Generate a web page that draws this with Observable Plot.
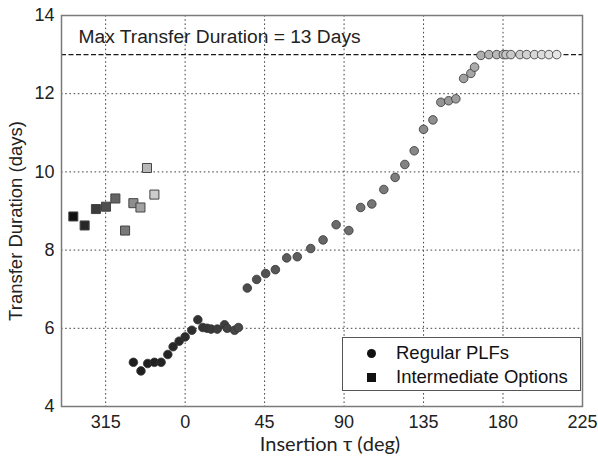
<!DOCTYPE html>
<html>
<head>
<meta charset="utf-8">
<script src="https://cdn.jsdelivr.net/npm/d3@7"></script>
<script src="https://cdn.jsdelivr.net/npm/@observablehq/plot@0.6"></script>
<style>
  html, body { margin: 0; padding: 0; background: #fff; }
  #wrap { position: relative; width: 598px; height: 458px; }
  #legend {
    position: absolute; left: 342px; top: 337px; width: 239px; height: 54px;
    border: 1px solid #555; background: #fff; box-sizing: border-box;
    font-family: "Liberation Sans", Arial, sans-serif; font-size: 18.5px; color: #111;
  }
  #legend .row { position: absolute; left: 0; height: 22px; line-height: 22px; white-space: nowrap; }
  #legend .sym { position: absolute; left: 24px; top: 7px; width: 9px; height: 9px; background: #111; }
  #legend .lab { position: absolute; left: 53px; top: 0; }
</style>
</head>
<body>
<div id="wrap"></div>
<script>
// Insertion angle τ (deg, 315 wraps to -45) and transfer duration (days)
const regularTau = [
  -29.3, -25.0, -21.2, -17.4, -13.6, -9.8, -6.8, -3.4, 0.0, 3.8,
  7.2, 10.0, 12.5, 14.7, 18.2, 22.3, 23.8, 28.0, 30.2,
  35.2, 40.5, 45.6, 51.1, 57.5, 63.5, 71.1, 78.1, 85.5, 92.7,
  99.4, 105.7, 112.5, 118.9, 124.4, 129.7, 135.0, 140.3, 144.8, 149.2, 153.3, 157.7,
  161.8, 163.9, 167.5,
  172.0, 176.4, 180.2, 181.7, 184.5, 189.6, 193.4, 197.8, 201.9, 206.0, 210.4
];
const regularDays = [
  5.13, 4.91, 5.10, 5.13, 5.13, 5.33, 5.53, 5.67, 5.78, 5.95,
  6.22, 6.02, 6.00, 5.98, 5.98, 6.09, 6.00, 5.95, 6.02,
  7.03, 7.25, 7.40, 7.50, 7.80, 7.83, 8.04, 8.26, 8.65, 8.50,
  9.09, 9.18, 9.55, 9.86, 10.19, 10.54, 11.09, 11.33, 11.78, 11.82, 11.87, 12.39,
  12.52, 12.68, 12.98,
  13.0, 13.0, 13.0, 13.0, 13.0, 13.0, 13.0, 13.0, 13.0, 13.0, 13.0
];
const intermediateTau = [-63.3, -56.9, -50.5, -44.8, -39.5, -34.0, -29.3, -25.3, -21.6, -17.4];
const intermediateDays = [8.86, 8.63, 9.05, 9.11, 9.32, 8.50, 9.20, 9.09, 10.10, 9.42];

const xTicks = [-45, 0, 45, 90, 135, 180, 225];
const yTicks = [4, 6, 8, 10, 12, 14];
const maxDuration = 13;
const maxLabel = "Max Transfer Duration = 13 Days";
const legendLabels = ["Regular PLFs", "Intermediate Options"];

// grey shade ramps along each series, dark to light
const shade = (i, n, p, lo, hi) => d3.interpolateRgb(lo, hi)(Math.pow(i / (n - 1), p));

const regular = regularTau.map((t, i) => ({
  tau: t, days: regularDays[i],
  fill: shade(i, regularTau.length, 1.4, "#1e1e1e", "#e6e6e6")
}));
const intermediate = intermediateTau.map((t, i) => ({
  tau: t, days: intermediateDays[i],
  fill: shade(i, intermediateTau.length, 1, "#111111", "#cccccc")
}));

const fmtTau = d => String(d < 0 ? d + 360 : d);

const chart = Plot.plot({
  width: 598,
  height: 458,
  marginLeft: 61,
  marginRight: 16,
  marginTop: 15,
  marginBottom: 52,
  style: {
    fontFamily: "'Liberation Sans', Arial, sans-serif",
    fontSize: "18px",
    color: "#222",
    background: "#fff"
  },
  x: {domain: [-70, 225], ticks: xTicks, tickFormat: fmtTau, tickSize: 0, tickPadding: 9, label: null},
  y: {domain: [4, 14], ticks: yTicks, tickSize: 0, tickPadding: 7, label: null},
  color: {type: "identity"},
  marks: [
    Plot.ruleX(xTicks, {stroke: "#444", strokeWidth: 1, strokeDasharray: "1.6,2.6"}),
    Plot.ruleY(yTicks, {stroke: "#444", strokeWidth: 1, strokeDasharray: "1.6,2.6"}),
    Plot.ruleY([maxDuration], {stroke: "#1a1a1a", strokeWidth: 1.3, strokeDasharray: "5,2.5"}),
    Plot.dot(intermediate, {x: "tau", y: "days", symbol: "square", r: 5.1, fill: "fill", stroke: "#444", strokeWidth: 1}),
    Plot.dot(regular, {x: "tau", y: "days", symbol: "circle", r: 4.3, fill: "fill", stroke: "#333", strokeWidth: 0.8}),
    Plot.frame({stroke: "#7a7a7a", strokeWidth: 1.5}),
    Plot.text([maxLabel], {
      frameAnchor: "top-left", textAnchor: "start", lineAnchor: "bottom",
      dx: 17, dy: 27.5, fontSize: 19.2, fill: "#222"
    }),
    Plot.text(["Insertion τ (deg)"], {
      frameAnchor: "bottom", textAnchor: "middle", lineAnchor: "bottom", dx: 8, dy: 44,
      fontSize: 20, fontFamily: "Lato, 'Open Sans', sans-serif", fill: "#222"
    }),
    Plot.text(["Transfer Duration (days)"], {
      frameAnchor: "left", textAnchor: "middle", lineAnchor: "bottom", rotate: -90, dx: -40, dy: 10,
      fontSize: 18.5, fontFamily: "'Liberation Sans', Arial, sans-serif", fill: "#222"
    })
  ]
});

const wrap = document.getElementById("wrap");
wrap.appendChild(chart);

// legend box drawn over the lower-right corner of the frame
const legend = document.createElement("div");
legend.id = "legend";
legendLabels.forEach((label, i) => {
  const row = document.createElement("div");
  row.className = "row";
  row.style.top = (4 + i * 24) + "px";
  const sym = document.createElement("div");
  sym.className = "sym";
  if (i === 0) sym.style.borderRadius = "50%";
  const lab = document.createElement("div");
  lab.className = "lab";
  lab.textContent = label;
  row.appendChild(sym);
  row.appendChild(lab);
  legend.appendChild(row);
});
wrap.appendChild(legend);
</script>
</body>
</html>
